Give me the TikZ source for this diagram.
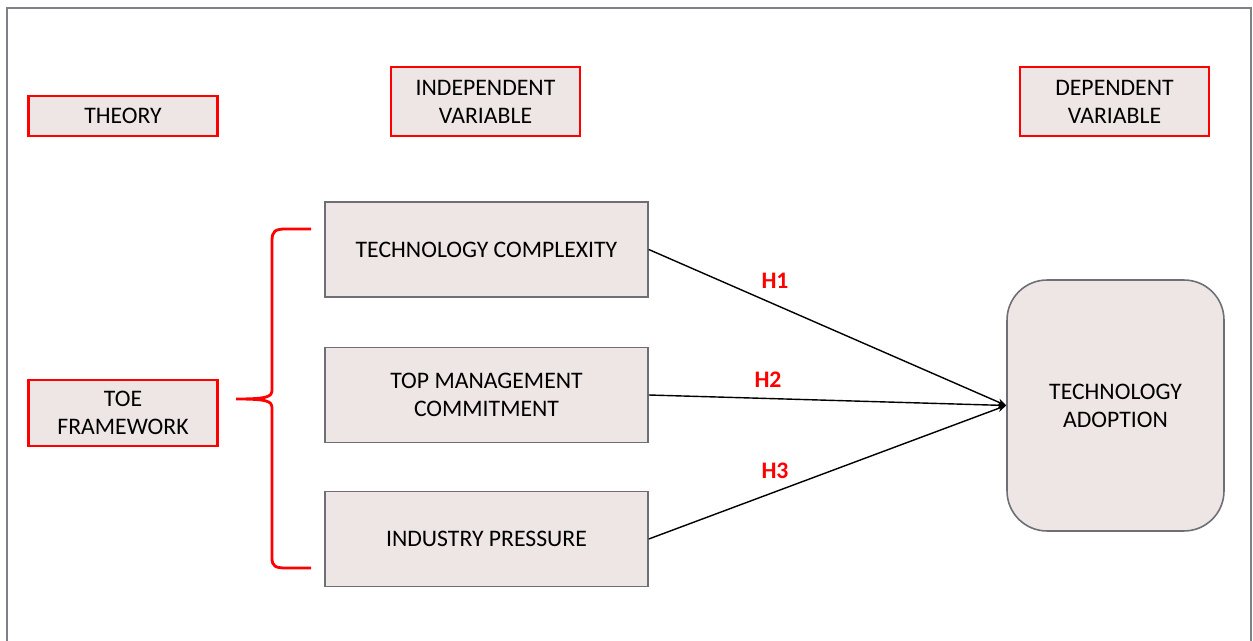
\documentclass[tikz,border=0pt]{standalone}
\usepackage{fontspec}
\setmainfont{Carlito}
\usetikzlibrary{arrows.meta}

\definecolor{boxfill}{HTML}{EEE6E5}
\definecolor{boxline}{HTML}{6E6E76}
\definecolor{frameline}{HTML}{7F7F86}

\begin{document}
\begin{tikzpicture}[
    x=0.02cm, y=-0.02cm,
    every node/.style={align=center, font=\fontsize{13.5}{16}\selectfont},
    tag/.style={draw=red, line width=1.6pt, fill=boxfill, minimum width=3.78cm},
    factor/.style={draw=boxline, line width=0.9pt, fill=boxfill, minimum width=6.46cm, minimum height=1.9cm},
    hyp/.style={text=red, font=\fontsize{13.5}{16}\selectfont\bfseries},
    link/.style={line width=0.8pt, -{Stealth[length=5pt,width=4pt]}}
]
\useasboundingbox (0,0) rectangle (1253,641);
\draw[frameline, line width=1.2pt] (7,641) -- (7,8) -- (1251,8) -- (1251,641);

% headings
\node[tag, minimum height=0.8cm] (theory) at (123,116) {THEORY};
\node[tag, minimum height=1.38cm] (indep) at (485.5,101.5) {INDEPENDENT\\VARIABLE};
\node[tag, minimum height=1.38cm] (dep) at (1114.5,101.5) {DEPENDENT\\VARIABLE};
\node[tag, minimum height=1.32cm] (toe) at (123,413) {TOE\\FRAMEWORK};

% the three factors
\node[factor] (complexity) at (486.5,249.5) {TECHNOLOGY COMPLEXITY};
\node[factor] (commitment) at (486.5,395) {TOP MANAGEMENT\\COMMITMENT};
\node[factor] (pressure) at (486.5,539) {INDUSTRY PRESSURE};

\node[draw=boxline, line width=0.9pt, fill=boxfill, rounded corners=0.8cm,
      minimum width=4.34cm, minimum height=5.02cm] (adoption) at (1115.5,405.5)
      {TECHNOLOGY\\ADOPTION};

% brace grouping the factors
\draw[red, line width=1.6pt] (311,229) -- (286,229) .. controls (275,229) and (272,231) .. (272,241)
    -- (272,390) .. controls (272,397) and (267,399) .. (236,399)
    .. controls (267,399) and (272,401) .. (272,408)
    -- (272,558) .. controls (272,566) and (275,568) .. (286,568) -- (311,568);

% hypotheses
\draw[link] (complexity.east) -- (adoption.west);
\draw[link] (commitment.east) -- (adoption.west);
\draw[link] (pressure.east) -- (adoption.west);

\node[hyp] (h1) at (775,281) {H1};
\node[hyp] (h2) at (768,380) {H2};
\node[hyp] (h3) at (775,471) {H3};
\end{tikzpicture}
\end{document}
